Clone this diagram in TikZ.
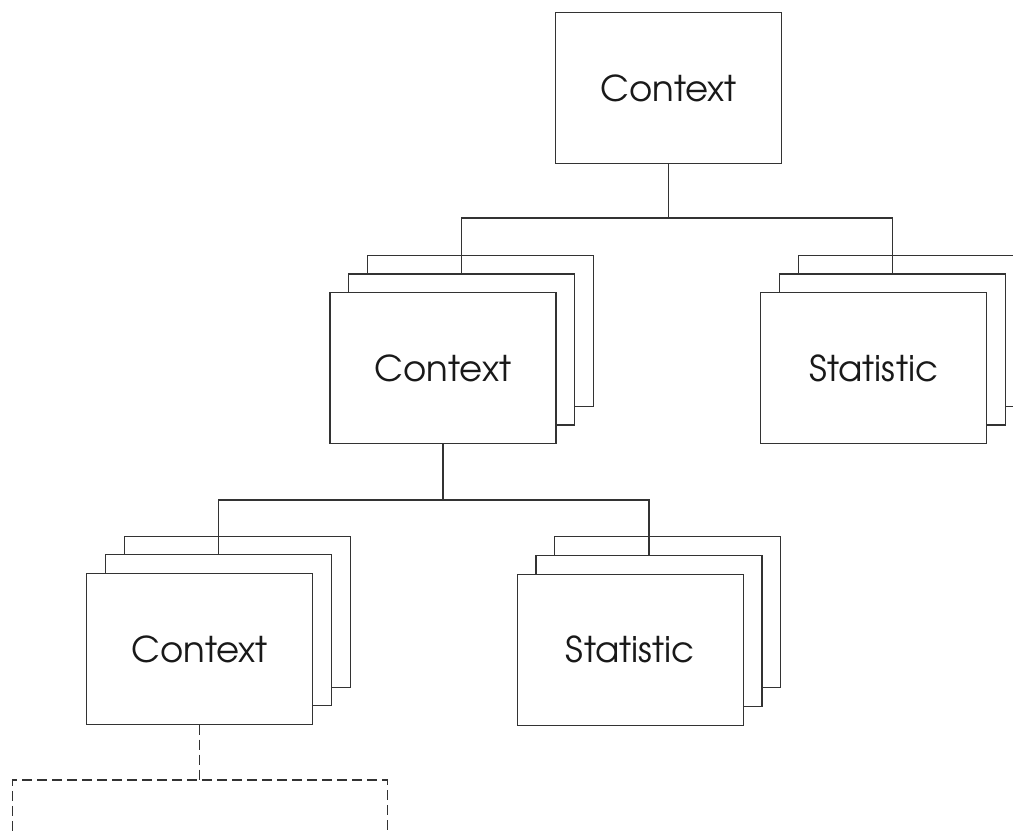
\documentclass[tikz,border=0pt]{standalone}
\usepackage{fontspec}
\setmainfont{TeX Gyre Adventor}
\begin{document}
\begin{tikzpicture}[x=1pt,y=-1pt,
  card/.style={draw=black!80, line width=1.1pt, fill=white, anchor=north west,
    minimum width=226pt, minimum height=151pt, inner sep=0pt, outer sep=0pt,
    font=\fontsize{35.5}{40}\selectfont, text=black!90},
  link/.style={draw=black!80, line width=1.1pt},
  dlink/.style={draw=black!80, line width=1.1pt, dash pattern=on 10pt off 5pt}]
\useasboundingbox (0,0) rectangle (1013,832);
\clip (0,0) rectangle (1013,832);
\newcommand{\mystack}[4]{%
  \node[card] (#1b) at (#2+37.4,#3-37.4) {};
  \node[card] (#1m) at (#2+18.7,#3-18.7) {};
  \node[card] (#1) at (#2,#3) {#4};}
% top
\node[card] (top) at (555.7,12.7) {Context};
% stacks
\mystack{c1}{330}{292.7}{Context}
\mystack{s1}{760.7}{292.7}{Statistic}
\mystack{c2}{86.7}{573.5}{Context}
\mystack{s2}{517.3}{574.3}{Statistic}
% dashed box
\node[card, draw=black!80, dash pattern=on 10pt off 5pt, minimum width=374.6pt, minimum height=200pt] (d) at (12.7,780) {};
% connectors
\coordinate (bar1) at (668.7,218);
\coordinate (bar2) at (443,500);
\draw[link] (top.south) -- (bar1);
\draw[link] (c1m.north) |- (bar1);
\draw[link] (s1m.north) |- (bar1);
\draw[link] (c1.south) -- (bar2);
\draw[link] (c2m.north) |- (bar2);
\draw[link] (s2m.north) |- (bar2);
\draw[dlink] (c2.south) -- (c2.south |- d.north);
\end{tikzpicture}
\end{document}
